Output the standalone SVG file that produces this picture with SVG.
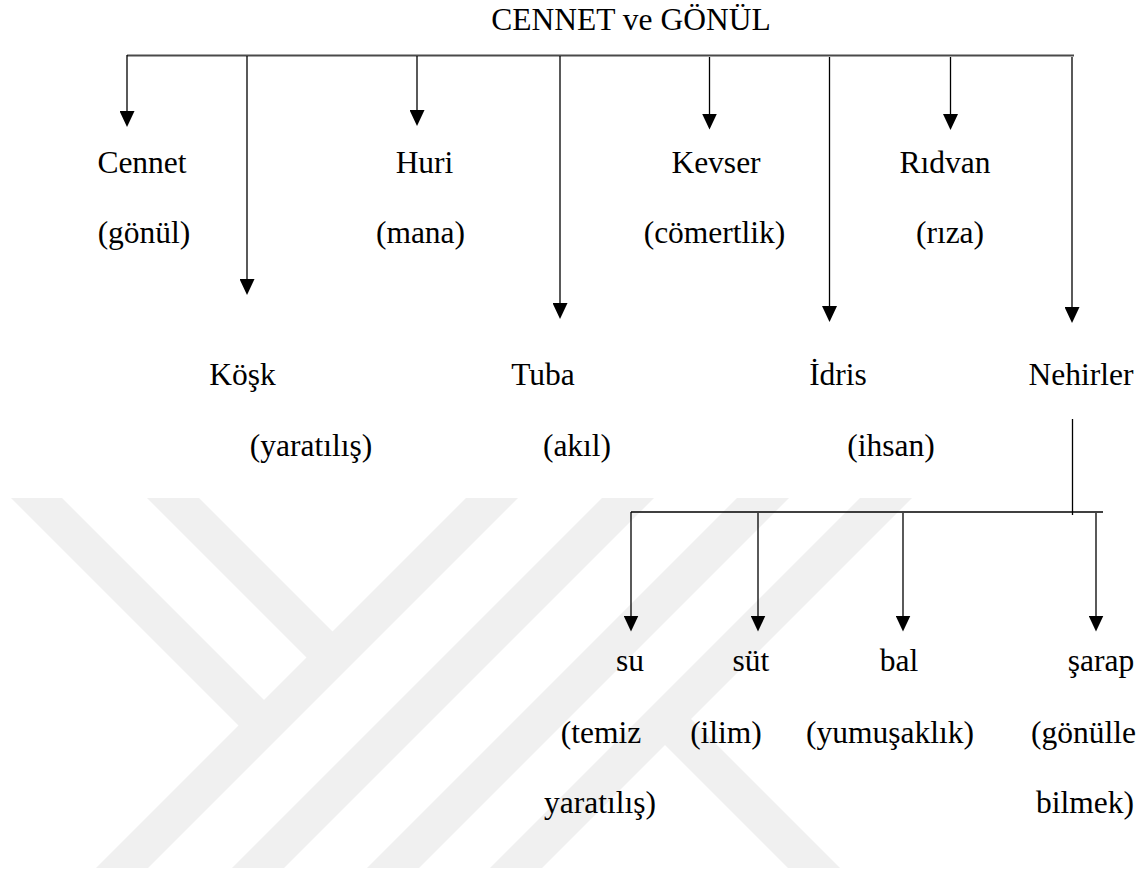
<svg xmlns="http://www.w3.org/2000/svg" width="1147" height="873" viewBox="0 0 1147 873">
<style>
.t{font-family:"Liberation Serif","Times New Roman",serif;font-size:31.5px;fill:#000;text-anchor:middle}
.ln{stroke:#000;stroke-width:1.3;fill:none}
.ar{stroke:#000;stroke-width:1.3;fill:none;marker-end:url(#ah)}
.wm{fill:#f0f0f0;stroke:none}
</style>
<defs>
<marker id="ah" viewBox="0 0 16 15" refX="2" refY="7.5" markerWidth="16" markerHeight="15" markerUnits="userSpaceOnUse" orient="auto">
<path d="M0,0 L16,7.5 L0,15 Z" fill="#000"/>
</marker>
</defs>
<rect width="1147" height="873" fill="#fff"/>
<g id="watermark">
<polygon class="wm" points="11,498 62,498 277,713 251.5,738.5"/>
<polygon class="wm" points="147,498 199,498 345.5,644.5 319.5,670.5"/>
<polygon class="wm" points="466,498 518,498 148,868 96,868"/>
<polygon class="wm" points="602,498 654,498 284,868 232,868"/>
<polygon class="wm" points="737,498 789,498 419,868 367,868"/>
<polygon class="wm" points="860,498 912,498 542,868 490,868"/>
<polygon class="wm" points="652,732 678,706 840,868 788,868"/>
</g>
<g id="connectors">
<line x1="127" y1="55.5" x2="1074" y2="55.5" stroke="#4a4a4a" stroke-width="2"/>
<line class="ar" x1="127" y1="55" x2="127" y2="113"/>
<line class="ar" x1="247" y1="56" x2="247" y2="281"/>
<line class="ar" x1="417" y1="56" x2="417" y2="112"/>
<line class="ar" x1="560" y1="56" x2="560" y2="305"/>
<line class="ar" x1="709.5" y1="57" x2="709.5" y2="115.5"/>
<line class="ar" x1="829.5" y1="57" x2="829.5" y2="308"/>
<line class="ar" x1="950.5" y1="57" x2="950.5" y2="116"/>
<line class="ar" x1="1072" y1="57" x2="1072" y2="309"/>
<line class="ln" x1="1072.5" y1="419" x2="1072.5" y2="515"/>
<line class="ln" x1="631" y1="512" x2="1103" y2="512"/>
<line class="ar" x1="631" y1="512" x2="631" y2="617.5"/>
<line class="ar" x1="758" y1="513" x2="758" y2="617.5"/>
<line class="ar" x1="903" y1="513" x2="903" y2="617.5"/>
<line class="ar" x1="1096" y1="513" x2="1096" y2="617.5"/>
</g>
<g id="title"><text class="t" x="631" y="29.5">CENNET ve GÖNÜL</text></g>
<g id="cennet"><text class="t" x="142" y="173">Cennet</text><text class="t" x="144" y="243">(gönül)</text></g>
<g id="huri"><text class="t" x="424.5" y="173">Huri</text><text class="t" x="420.5" y="243">(mana)</text></g>
<g id="kevser"><text class="t" x="716" y="173">Kevser</text><text class="t" x="714.5" y="243">(cömertlik)</text></g>
<g id="ridvan"><text class="t" x="945" y="173">Rıdvan</text><text class="t" x="950" y="243">(rıza)</text></g>
<g id="kosk"><text class="t" x="242.5" y="385">Köşk</text><text class="t" x="311" y="456">(yaratılış)</text></g>
<g id="tuba"><text class="t" x="543" y="385">Tuba</text><text class="t" x="577" y="456">(akıl)</text></g>
<g id="idris"><text class="t" x="838" y="385">İdris</text><text class="t" x="891" y="456">(ihsan)</text></g>
<g id="nehirler"><text class="t" x="1081" y="385">Nehirler</text></g>
<g id="su"><text class="t" x="630" y="671">su</text><text class="t" x="601" y="742.5">(temiz</text><text class="t" x="600" y="813">yaratılış)</text></g>
<g id="sut"><text class="t" x="751" y="671">süt</text><text class="t" x="726" y="742.5">(ilim)</text></g>
<g id="bal"><text class="t" x="899" y="671">bal</text><text class="t" x="890" y="742.5">(yumuşaklık)</text></g>
<g id="sarap"><text class="t" x="1101" y="671">şarap</text><text class="t" x="1031" y="742.5" style="text-anchor:start">(gönülle</text><text class="t" x="1085" y="813">bilmek)</text></g>
</svg>
